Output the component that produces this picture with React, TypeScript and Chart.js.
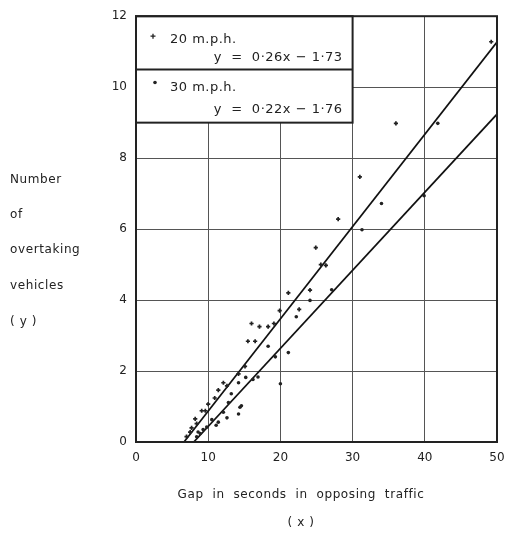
import React, { useEffect, useRef } from "react";
import { Chart, registerables } from "chart.js";

Chart.register(...registerables);

// 20 m.p.h. observations (x = gap in seconds, y = number of overtaking vehicles)
const mph20X = [7.0, 7.5, 7.7, 8.2, 8.4, 9.1, 9.6, 10.0, 10.9, 11.4, 12.1, 12.6, 14.2, 15.1, 15.5, 16.0, 16.5, 17.1, 18.3, 19.1, 19.9, 21.1, 22.6, 24.1, 24.9, 25.6, 26.3, 28.0, 31.0, 36.0, 49.2];
const mph20Y = [0.15, 0.28, 0.4, 0.65, 0.52, 0.88, 0.88, 1.07, 1.24, 1.46, 1.67, 1.58, 1.92, 2.13, 2.84, 3.34, 2.84, 3.25, 3.25, 3.34, 3.7, 4.2, 3.74, 4.28, 5.48, 5.0, 4.98, 6.28, 7.47, 8.98, 11.28];

// 30 m.p.h. observations
const mph30X = [8.4, 8.6, 8.9, 9.3, 9.8, 10.5, 11.1, 11.4, 12.1, 12.6, 12.8, 13.2, 14.2, 14.4, 14.6, 14.2, 15.2, 16.2, 16.9, 18.3, 19.3, 20.0, 21.1, 22.2, 24.1, 27.1, 31.3, 34.0, 39.9, 41.8];
const mph30Y = [0.15, 0.28, 0.24, 0.35, 0.42, 0.63, 0.47, 0.56, 0.84, 0.68, 1.11, 1.36, 0.79, 0.98, 1.02, 1.67, 1.82, 1.76, 1.83, 2.7, 2.4, 1.64, 2.52, 3.53, 3.99, 4.29, 5.98, 6.72, 6.94, 8.98];

// Fitted lines, end points
const fit20X = [6.65, 50];
const fit20Y = [0, 11.27];
const fit30X = [8.0, 50];
const fit30Y = [0, 9.24];

const xTicks = [0, 10, 20, 30, 40, 50];
const yTicks = [0, 2, 4, 6, 8, 10, 12];

const legend20 = "20 m.p.h.";
const legend20Eq = "y  =  0·26x − 1·73";
const legend30 = "30 m.p.h.";
const legend30Eq = "y  =  0·22x − 1·76";
const yTitle = ["Number", "of", "overtaking", "vehicles", "( y )"];
const xTitle = ["Gap  in  seconds  in  opposing  traffic", "( x )"];

const FONT = "'DejaVu Sans', 'Liberation Sans', sans-serif";
const INK = "#222";

const zip = (xs: number[], ys: number[]) => xs.map((x, i) => ({ x, y: ys[i] }));

export default function App() {
  const ref = useRef<HTMLCanvasElement | null>(null);
  useEffect(() => {
    if (!ref.current) return;

    const decor = {
      id: "decor",
      beforeDatasetsDraw(chart: any) {
        const { ctx, scales } = chart;
        const xs = scales.x, ys = scales.y;
        const l = chart.chartArea.left, t = chart.chartArea.top;
        const r = xs.getPixelForValue(30);
        const b = ys.getPixelForValue(9);
        const mid = ys.getPixelForValue(10.5);
        ctx.save();
        ctx.fillStyle = "#fff";
        ctx.fillRect(l, t, r - l, b - t);
        ctx.strokeStyle = INK;
        ctx.lineWidth = 2;
        ctx.strokeRect(l, t, r - l, b - t);
        ctx.beginPath();
        ctx.moveTo(l, mid);
        ctx.lineTo(r, mid);
        ctx.stroke();
        ctx.fillStyle = INK;
        ctx.font = `13px ${FONT}`;
        ctx.textBaseline = "middle";
        try { (ctx as any).letterSpacing = "0.5px"; } catch (e) {}
        // row 1
        ctx.lineWidth = 1.3;
        ctx.beginPath();
        ctx.moveTo(l + 14.5, t + 20); ctx.lineTo(l + 19.5, t + 20);
        ctx.moveTo(l + 17, t + 17.5); ctx.lineTo(l + 17, t + 22.5);
        ctx.stroke();
        ctx.textAlign = "left";
        ctx.fillText(legend20, l + 34, t + 23);
        ctx.textAlign = "right";
        ctx.fillText(legend20Eq, r - 10, t + 41);
        // row 2
        ctx.beginPath();
        ctx.arc(l + 19, mid + 13, 1.8, 0, Math.PI * 2);
        ctx.fill();
        ctx.textAlign = "left";
        ctx.fillText(legend30, l + 34, mid + 18);
        ctx.textAlign = "right";
        ctx.fillText(legend30Eq, r - 10, mid + 40);
        ctx.restore();
      },
      afterDraw(chart: any) {
        const { ctx, chartArea } = chart;
        ctx.save();
        ctx.strokeStyle = INK;
        ctx.lineWidth = 2;
        ctx.strokeRect(chartArea.left, chartArea.top, chartArea.right - chartArea.left, chartArea.bottom - chartArea.top);
        ctx.fillStyle = INK;
        ctx.font = `12px ${FONT}`;
        ctx.textBaseline = "middle";
        try { (ctx as any).letterSpacing = "0.6px"; } catch (e) {}
        ctx.textAlign = "left";
        const yPos = [180, 215, 250, 286, 322];
        yTitle.forEach((s, i) => ctx.fillText(s, 10, yPos[i]));
        ctx.textAlign = "center";
        ctx.fillText(xTitle[0], 301, 495);
        ctx.fillText(xTitle[1], 301, 523);
        ctx.restore();
      },
    };

    const chart = new Chart(ref.current, {
      type: "scatter",
      data: {
        datasets: [
          {
            label: legend20,
            data: zip(mph20X, mph20Y),
            pointStyle: "cross",
            pointRadius: 2.1,
            pointBorderWidth: 1.7,
            borderColor: INK,
            backgroundColor: INK,
          },
          {
            label: legend30,
            data: zip(mph30X, mph30Y),
            pointStyle: "circle",
            pointRadius: 1.8,
            pointBorderWidth: 0,
            borderColor: INK,
            backgroundColor: INK,
          },
          {
            label: "fit 20",
            type: "line",
            data: zip(fit20X, fit20Y),
            showLine: true,
            pointRadius: 0,
            borderColor: "#111",
            borderWidth: 1.7,
          },
          {
            label: "fit 30",
            type: "line",
            data: zip(fit30X, fit30Y),
            showLine: true,
            pointRadius: 0,
            borderColor: "#111",
            borderWidth: 1.7,
          },
        ] as any,
      },
      options: {
        animation: false,
        responsive: true,
        maintainAspectRatio: false,
        layout: { padding: { left: 0, top: 8, right: 24, bottom: 0 } },
        plugins: { legend: { display: false }, tooltip: { enabled: false } },
        scales: {
          x: {
            type: "linear",
            min: 0,
            max: 50,
            afterFit: (s: any) => { s.height = 93; },
            afterBuildTicks: (s: any) => { s.ticks = xTicks.map((v) => ({ value: v })); },
            ticks: { color: INK, font: { size: 12, family: FONT }, padding: 9, maxRotation: 0 },
            grid: { color: "#555", lineWidth: 1, drawTicks: false },
            border: { display: false },
          },
          y: {
            type: "linear",
            min: 0,
            max: 12,
            afterFit: (s: any) => { s.width = 136; },
            afterBuildTicks: (s: any) => { s.ticks = yTicks.map((v) => ({ value: v })); },
            ticks: { color: INK, font: { size: 12, family: FONT }, padding: 9 },
            grid: { color: "#555", lineWidth: 1, drawTicks: false },
            border: { display: false },
          },
        },
      } as any,
      plugins: [decor],
    });
    return () => chart.destroy();
  }, []);

  return (
    <div style={{ position: "absolute", left: 0, top: 0, width: 521, height: 535, background: "#fff" }}>
      <canvas ref={ref} />
    </div>
  );
}
